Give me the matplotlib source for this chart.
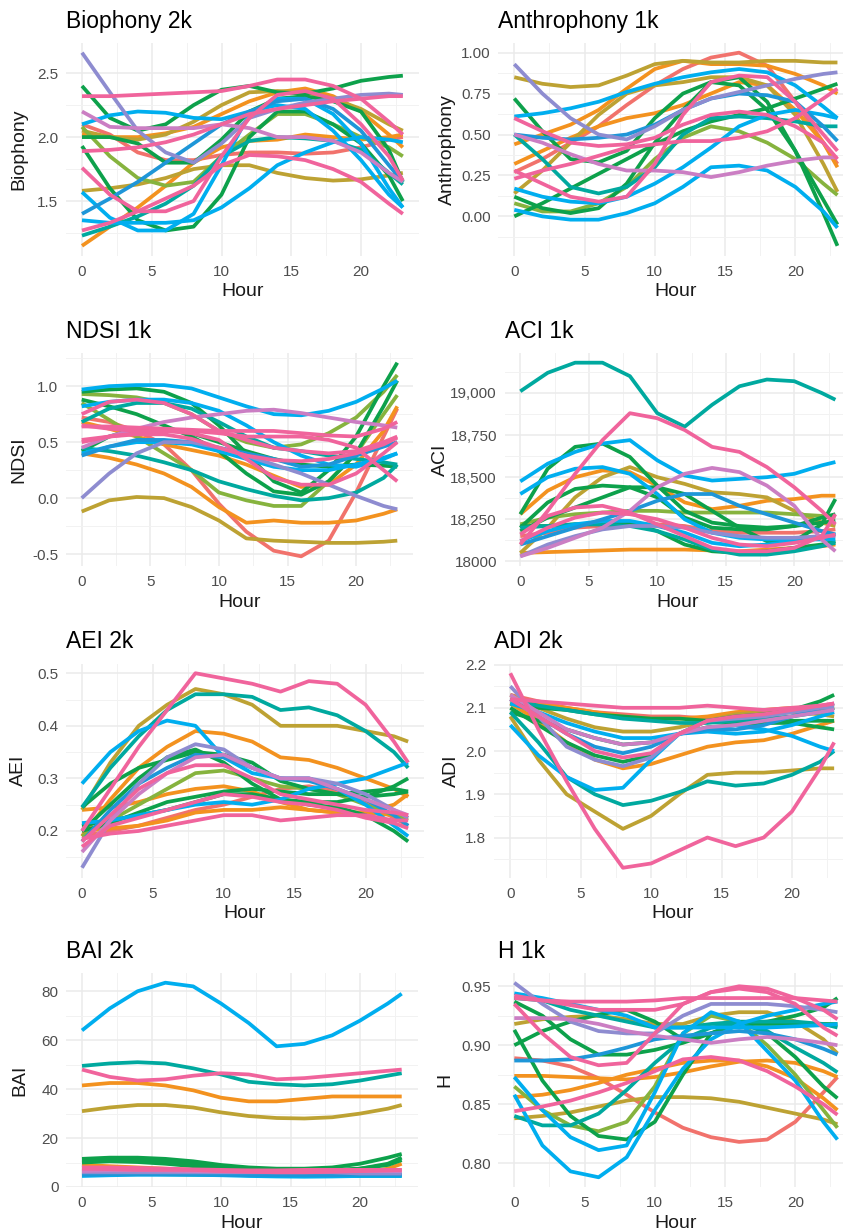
import matplotlib.pyplot as plt
from matplotlib.ticker import MultipleLocator

plt.rcParams['font.family'] = ['Liberation Sans', 'DejaVu Sans']

# sampled hours shared by every smoothed site curve
HOURS = [0, 2, 4, 6, 8, 10, 12, 14, 16, 18, 20, 22, 23]

SALMON = '#F1726C'
ORANGE = '#F3921F'
OLIVE = '#BDA233'
LGREEN = '#86B33E'
GREEN = '#0DA14B'
TEAL = '#00A99F'
SKY = '#00AEEF'
BLUE = '#1E96D8'
LAVENDER = '#8E8CD0'
MAUVE = '#CB7EC3'
PINK = '#F0649C'

# Biophony 2k
bio_colors = [SALMON, ORANGE, ORANGE, OLIVE, OLIVE, LGREEN, GREEN, GREEN, GREEN, TEAL,
              SKY, SKY, SKY, BLUE, LAVENDER, MAUVE, PINK, PINK, PINK, PINK]
bio_values = [
    [2.10, 2.02, 1.88, 1.82, 1.82, 1.86, 1.88, 1.88, 1.87, 1.88, 1.92, 1.98, 2.00],
    [2.02, 2.00, 2.00, 2.03, 2.08, 2.18, 2.28, 2.35, 2.38, 2.32, 2.20, 2.02, 1.92],
    [1.15, 1.30, 1.45, 1.62, 1.80, 1.92, 1.97, 1.98, 2.02, 2.00, 1.98, 2.00, 2.02],
    [1.58, 1.60, 1.63, 1.68, 1.75, 1.78, 1.78, 1.72, 1.68, 1.66, 1.67, 1.70, 1.72],
    [2.05, 2.00, 1.98, 2.02, 2.12, 2.25, 2.35, 2.36, 2.35, 2.30, 2.22, 2.10, 2.05],
    [2.08, 1.85, 1.68, 1.62, 1.65, 1.85, 2.02, 2.18, 2.18, 2.10, 2.00, 1.92, 1.85],
    [2.40, 2.15, 2.05, 2.10, 2.25, 2.37, 2.40, 2.35, 2.34, 2.38, 2.44, 2.47, 2.48],
    [1.93, 1.60, 1.35, 1.27, 1.30, 1.55, 2.00, 2.20, 2.20, 2.10, 1.95, 1.70, 1.50],
    [2.00, 2.00, 1.95, 1.80, 1.80, 1.98, 2.20, 2.30, 2.32, 2.28, 2.20, 1.90, 1.65],
    [1.23, 1.30, 1.38, 1.48, 1.62, 1.85, 1.97, 2.00, 1.99, 1.97, 1.90, 1.72, 1.63],
    [2.10, 2.17, 2.20, 2.19, 2.15, 2.14, 2.20, 2.25, 2.22, 2.05, 1.82, 1.55, 1.45],
    [1.35, 1.33, 1.33, 1.33, 1.35, 1.45, 1.60, 1.78, 1.88, 1.96, 2.00, 1.98, 1.96],
    [1.57, 1.37, 1.27, 1.27, 1.40, 1.78, 2.18, 2.30, 2.30, 2.18, 1.95, 1.60, 1.45],
    [1.40, 1.52, 1.65, 1.80, 1.95, 2.10, 2.20, 2.28, 2.30, 2.22, 2.05, 1.78, 1.65],
    [2.66, 2.35, 2.05, 1.88, 1.80, 1.95, 2.15, 2.22, 2.27, 2.30, 2.33, 2.34, 2.33],
    [2.20, 2.08, 2.07, 2.07, 2.07, 2.10, 2.07, 2.00, 2.00, 1.97, 1.88, 1.72, 1.65],
    [2.32, 2.32, 2.33, 2.34, 2.35, 2.36, 2.40, 2.45, 2.45, 2.40, 2.30, 2.12, 2.02],
    [1.76, 1.55, 1.42, 1.42, 1.50, 1.85, 2.15, 2.33, 2.36, 2.30, 2.10, 1.85, 1.66],
    [1.27, 1.33, 1.42, 1.52, 1.62, 1.78, 1.86, 1.85, 1.82, 1.75, 1.65, 1.48, 1.40],
    [1.89, 1.90, 1.92, 1.96, 2.02, 2.10, 2.18, 2.22, 2.25, 2.28, 2.30, 2.32, 2.32],
]

# Anthrophony 1k
anthro_colors = [SALMON, ORANGE, ORANGE, OLIVE, OLIVE, LGREEN, GREEN, GREEN, GREEN, TEAL,
                 SKY, SKY, SKY, BLUE, LAVENDER, MAUVE, PINK, PINK, PINK]
anthro_values = [
    [0.27, 0.35, 0.45, 0.55, 0.68, 0.80, 0.90, 0.97, 1.00, 0.92, 0.70, 0.45, 0.32],
    [0.44, 0.50, 0.56, 0.65, 0.78, 0.90, 0.95, 0.93, 0.93, 0.92, 0.87, 0.80, 0.75],
    [0.32, 0.40, 0.48, 0.55, 0.60, 0.63, 0.68, 0.75, 0.82, 0.80, 0.65, 0.45, 0.30],
    [0.85, 0.81, 0.79, 0.80, 0.86, 0.93, 0.95, 0.94, 0.94, 0.95, 0.95, 0.94, 0.94],
    [0.14, 0.28, 0.45, 0.62, 0.75, 0.80, 0.82, 0.85, 0.85, 0.80, 0.62, 0.32, 0.15],
    [0.08, 0.03, 0.03, 0.08, 0.18, 0.35, 0.48, 0.55, 0.52, 0.45, 0.35, 0.20, 0.13],
    [0.00, 0.08, 0.17, 0.26, 0.35, 0.44, 0.52, 0.58, 0.62, 0.66, 0.72, 0.78, 0.81],
    [0.72, 0.52, 0.35, 0.33, 0.40, 0.60, 0.75, 0.82, 0.80, 0.65, 0.40, 0.10, -0.05],
    [0.12, 0.05, 0.02, 0.05, 0.20, 0.45, 0.65, 0.82, 0.85, 0.70, 0.40, 0.02, -0.18],
    [0.50, 0.35, 0.18, 0.14, 0.18, 0.30, 0.50, 0.60, 0.61, 0.60, 0.58, 0.55, 0.55],
    [0.61, 0.63, 0.66, 0.70, 0.76, 0.81, 0.85, 0.88, 0.90, 0.88, 0.80, 0.67, 0.60],
    [0.04, 0.00, -0.02, -0.02, 0.02, 0.08, 0.18, 0.30, 0.31, 0.28, 0.18, 0.03, -0.07],
    [0.17, 0.12, 0.09, 0.08, 0.12, 0.20, 0.30, 0.42, 0.55, 0.62, 0.65, 0.62, 0.60],
    [0.50, 0.48, 0.47, 0.48, 0.50, 0.56, 0.65, 0.72, 0.75, 0.74, 0.70, 0.55, 0.46],
    [0.93, 0.75, 0.60, 0.50, 0.47, 0.55, 0.65, 0.72, 0.76, 0.80, 0.84, 0.87, 0.88],
    [0.50, 0.45, 0.38, 0.32, 0.28, 0.28, 0.27, 0.24, 0.27, 0.31, 0.34, 0.36, 0.36],
    [0.28, 0.20, 0.12, 0.09, 0.12, 0.32, 0.62, 0.82, 0.86, 0.85, 0.70, 0.50, 0.40],
    [0.60, 0.52, 0.45, 0.43, 0.44, 0.48, 0.56, 0.62, 0.64, 0.62, 0.55, 0.45, 0.35],
    [0.23, 0.28, 0.32, 0.37, 0.42, 0.44, 0.46, 0.46, 0.48, 0.52, 0.60, 0.72, 0.78],
]

# NDSI 1k
ndsi_colors = [SALMON, ORANGE, ORANGE, OLIVE, LGREEN, LGREEN, GREEN, GREEN, GREEN, TEAL, TEAL,
               SKY, SKY, SKY, BLUE, LAVENDER, MAUVE, PINK, PINK, PINK, PINK, PINK]
ndsi_values = [
    [0.72, 0.68, 0.60, 0.48, 0.25, -0.05, -0.30, -0.47, -0.52, -0.38, 0.05, 0.55, 0.80],
    [0.40, 0.36, 0.30, 0.22, 0.10, -0.08, -0.22, -0.20, -0.22, -0.22, -0.20, -0.14, -0.10],
    [0.68, 0.62, 0.55, 0.48, 0.43, 0.38, 0.30, 0.20, 0.10, 0.12, 0.30, 0.60, 0.82],
    [-0.12, -0.02, 0.01, 0.00, -0.08, -0.20, -0.36, -0.38, -0.39, -0.40, -0.40, -0.39, -0.38],
    [0.85, 0.70, 0.55, 0.40, 0.25, 0.05, -0.02, -0.07, -0.07, 0.15, 0.40, 0.75, 0.92],
    [0.93, 0.92, 0.90, 0.85, 0.75, 0.60, 0.50, 0.45, 0.48, 0.58, 0.72, 0.95, 1.10],
    [0.95, 0.97, 0.98, 0.95, 0.85, 0.65, 0.40, 0.15, 0.05, 0.25, 0.55, 1.00, 1.21],
    [0.88, 0.82, 0.75, 0.65, 0.55, 0.42, 0.22, 0.06, 0.03, 0.15, 0.40, 0.82, 1.05],
    [0.42, 0.55, 0.62, 0.62, 0.58, 0.50, 0.42, 0.35, 0.30, 0.28, 0.30, 0.29, 0.28],
    [0.68, 0.80, 0.85, 0.85, 0.80, 0.68, 0.55, 0.45, 0.42, 0.38, 0.35, 0.32, 0.30],
    [0.45, 0.42, 0.38, 0.32, 0.25, 0.15, 0.08, 0.02, -0.02, 0.00, 0.05, 0.18, 0.30],
    [0.97, 1.00, 1.01, 1.01, 0.98, 0.90, 0.82, 0.75, 0.74, 0.78, 0.86, 0.98, 1.05],
    [0.82, 0.86, 0.88, 0.88, 0.85, 0.78, 0.65, 0.50, 0.38, 0.30, 0.28, 0.35, 0.40],
    [0.40, 0.46, 0.50, 0.50, 0.48, 0.42, 0.35, 0.28, 0.25, 0.25, 0.30, 0.36, 0.40],
    [0.38, 0.46, 0.52, 0.52, 0.50, 0.45, 0.40, 0.35, 0.28, 0.30, 0.38, 0.46, 0.50],
    [0.00, 0.22, 0.40, 0.50, 0.50, 0.45, 0.38, 0.30, 0.22, 0.12, 0.02, -0.07, -0.10],
    [0.45, 0.55, 0.62, 0.68, 0.72, 0.75, 0.78, 0.79, 0.76, 0.72, 0.68, 0.65, 0.63],
    [0.75, 0.86, 0.88, 0.85, 0.75, 0.60, 0.52, 0.45, 0.42, 0.40, 0.42, 0.50, 0.55],
    [0.64, 0.64, 0.63, 0.62, 0.61, 0.60, 0.60, 0.60, 0.58, 0.56, 0.55, 0.62, 0.68],
    [0.52, 0.55, 0.57, 0.57, 0.53, 0.45, 0.38, 0.34, 0.33, 0.35, 0.40, 0.48, 0.54],
    [0.65, 0.62, 0.60, 0.60, 0.58, 0.52, 0.35, 0.18, 0.12, 0.12, 0.22, 0.40, 0.50],
    [0.50, 0.55, 0.58, 0.60, 0.60, 0.58, 0.55, 0.55, 0.55, 0.52, 0.45, 0.25, 0.15],
]

# ACI 1k
aci_colors = [SALMON, ORANGE, ORANGE, OLIVE, LGREEN, GREEN, GREEN, GREEN, GREEN, TEAL, TEAL,
              SKY, SKY, SKY, BLUE, LAVENDER, MAUVE, PINK, PINK, PINK]
aci_values = [
    [18150, 18170, 18200, 18210, 18220, 18220, 18210, 18180, 18170, 18170, 18170, 18180, 18190],
    [18280, 18420, 18500, 18540, 18530, 18450, 18350, 18310, 18330, 18360, 18370, 18390, 18390],
    [18050, 18055, 18060, 18065, 18070, 18070, 18070, 18065, 18060, 18070, 18080, 18090, 18100],
    [18050, 18200, 18380, 18500, 18560, 18500, 18460, 18410, 18400, 18380, 18300, 18230, 18210],
    [18220, 18260, 18280, 18290, 18300, 18300, 18290, 18290, 18290, 18290, 18280, 18270, 18260],
    [18280, 18550, 18680, 18700, 18620, 18450, 18300, 18230, 18210, 18200, 18210, 18230, 18240],
    [18200, 18350, 18430, 18450, 18440, 18380, 18260, 18200, 18190, 18190, 18210, 18260, 18280],
    [18180, 18260, 18320, 18380, 18440, 18440, 18400, 18300, 18200, 18120, 18120, 18220, 18370],
    [18210, 18210, 18220, 18220, 18230, 18180, 18100, 18060, 18050, 18060, 18080, 18100, 18120],
    [19010, 19120, 19180, 19180, 19100, 18880, 18800, 18930, 19040, 19080, 19070, 19000, 18960],
    [18200, 18210, 18220, 18220, 18210, 18180, 18130, 18070, 18040, 18040, 18060, 18090, 18110],
    [18475, 18580, 18650, 18700, 18720, 18600, 18510, 18480, 18490, 18500, 18520, 18570, 18590],
    [18400, 18500, 18550, 18560, 18520, 18400, 18250, 18170, 18140, 18130, 18130, 18130, 18130],
    [18120, 18180, 18220, 18240, 18240, 18210, 18170, 18110, 18090, 18100, 18120, 18150, 18160],
    [18100, 18150, 18200, 18250, 18300, 18360, 18400, 18400, 18330, 18280, 18230, 18180, 18160],
    [18030, 18100, 18150, 18190, 18210, 18210, 18200, 18170, 18150, 18140, 18140, 18150, 18150],
    [18030, 18080, 18140, 18200, 18300, 18440, 18520, 18555, 18530, 18450, 18330, 18130, 18060],
    [18160, 18270, 18320, 18330, 18290, 18220, 18150, 18080, 18060, 18060, 18080, 18150, 18280],
    [18120, 18200, 18260, 18290, 18280, 18250, 18200, 18140, 18100, 18090, 18110, 18140, 18160],
    [18100, 18300, 18520, 18720, 18880, 18850, 18780, 18680, 18650, 18560, 18440, 18300, 18220],
]

# AEI 2k
aei_colors = [SALMON, ORANGE, ORANGE, ORANGE, OLIVE, LGREEN, GREEN, GREEN, GREEN, GREEN,
              TEAL, SKY, SKY, BLUE, LAVENDER, MAUVE, PINK, PINK, PINK, PINK]
aei_values = [
    [0.190, 0.200, 0.210, 0.225, 0.240, 0.250, 0.265, 0.280, 0.285, 0.275, 0.255, 0.225, 0.210],
    [0.190, 0.260, 0.320, 0.360, 0.390, 0.385, 0.370, 0.340, 0.335, 0.320, 0.300, 0.280, 0.265],
    [0.240, 0.245, 0.255, 0.270, 0.280, 0.285, 0.275, 0.255, 0.240, 0.235, 0.235, 0.250, 0.270],
    [0.200, 0.205, 0.210, 0.220, 0.235, 0.240, 0.240, 0.245, 0.240, 0.235, 0.235, 0.230, 0.225],
    [0.240, 0.330, 0.400, 0.440, 0.470, 0.460, 0.440, 0.400, 0.400, 0.400, 0.390, 0.380, 0.370],
    [0.190, 0.220, 0.250, 0.280, 0.310, 0.315, 0.300, 0.285, 0.280, 0.270, 0.250, 0.230, 0.220],
    [0.245, 0.290, 0.320, 0.335, 0.350, 0.345, 0.330, 0.295, 0.280, 0.270, 0.265, 0.270, 0.275],
    [0.200, 0.250, 0.300, 0.340, 0.355, 0.330, 0.290, 0.260, 0.250, 0.245, 0.230, 0.200, 0.180],
    [0.200, 0.215, 0.235, 0.255, 0.265, 0.275, 0.280, 0.275, 0.270, 0.270, 0.275, 0.280, 0.275],
    [0.210, 0.220, 0.230, 0.240, 0.255, 0.270, 0.270, 0.260, 0.255, 0.255, 0.265, 0.285, 0.300],
    [0.245, 0.320, 0.380, 0.430, 0.460, 0.460, 0.455, 0.430, 0.435, 0.420, 0.390, 0.350, 0.320],
    [0.290, 0.350, 0.390, 0.410, 0.400, 0.340, 0.310, 0.300, 0.300, 0.280, 0.250, 0.210, 0.190],
    [0.215, 0.220, 0.230, 0.240, 0.250, 0.255, 0.250, 0.260, 0.280, 0.290, 0.300, 0.320, 0.330],
    [0.180, 0.240, 0.290, 0.320, 0.345, 0.340, 0.320, 0.300, 0.295, 0.280, 0.260, 0.230, 0.210],
    [0.130, 0.220, 0.290, 0.340, 0.365, 0.355, 0.320, 0.300, 0.300, 0.290, 0.270, 0.240, 0.225],
    [0.160, 0.220, 0.270, 0.310, 0.340, 0.345, 0.320, 0.300, 0.300, 0.280, 0.260, 0.240, 0.230],
    [0.180, 0.230, 0.280, 0.310, 0.325, 0.325, 0.300, 0.270, 0.260, 0.250, 0.240, 0.235, 0.230],
    [0.185, 0.195, 0.200, 0.210, 0.220, 0.230, 0.230, 0.220, 0.225, 0.230, 0.230, 0.220, 0.220],
    [0.170, 0.210, 0.225, 0.240, 0.255, 0.270, 0.265, 0.255, 0.250, 0.240, 0.225, 0.215, 0.205],
    [0.200, 0.280, 0.360, 0.430, 0.500, 0.490, 0.480, 0.465, 0.485, 0.480, 0.440, 0.370, 0.330],
]

# ADI 2k
adi_colors = [SALMON, ORANGE, ORANGE, OLIVE, OLIVE, GREEN, GREEN, GREEN, TEAL, TEAL,
              SKY, SKY, BLUE, LAVENDER, MAUVE, PINK, PINK, PINK]
adi_values = [
    [2.130, 2.115, 2.100, 2.090, 2.085, 2.080, 2.080, 2.075, 2.080, 2.085, 2.090, 2.095, 2.100],
    [2.110, 2.070, 2.020, 1.980, 1.960, 1.970, 1.990, 2.010, 2.020, 2.025, 2.040, 2.060, 2.070],
    [2.120, 2.110, 2.100, 2.090, 2.080, 2.075, 2.075, 2.080, 2.090, 2.095, 2.100, 2.100, 2.100],
    [2.080, 1.980, 1.900, 1.860, 1.820, 1.850, 1.900, 1.945, 1.950, 1.950, 1.955, 1.960, 1.960],
    [2.130, 2.100, 2.075, 2.055, 2.045, 2.045, 2.055, 2.070, 2.085, 2.090, 2.090, 2.085, 2.080],
    [2.100, 2.060, 2.020, 1.990, 1.975, 1.990, 2.040, 2.070, 2.080, 2.085, 2.095, 2.115, 2.130],
    [2.110, 2.100, 2.095, 2.085, 2.080, 2.075, 2.075, 2.070, 2.065, 2.065, 2.065, 2.055, 2.050],
    [2.090, 2.070, 2.050, 2.030, 2.015, 2.020, 2.040, 2.055, 2.060, 2.065, 2.070, 2.070, 2.070],
    [2.090, 2.020, 1.940, 1.900, 1.875, 1.885, 1.905, 1.930, 1.920, 1.925, 1.945, 1.975, 2.000],
    [2.120, 2.105, 2.095, 2.085, 2.075, 2.070, 2.065, 2.065, 2.070, 2.075, 2.080, 2.090, 2.100],
    [2.060, 1.990, 1.940, 1.910, 1.915, 1.980, 2.040, 2.050, 2.060, 2.050, 2.035, 2.010, 2.000],
    [2.110, 2.090, 2.065, 2.045, 2.030, 2.030, 2.040, 2.045, 2.040, 2.045, 2.060, 2.080, 2.090],
    [2.120, 2.080, 2.040, 2.010, 1.995, 2.010, 2.040, 2.050, 2.050, 2.060, 2.080, 2.100, 2.110],
    [2.150, 2.080, 2.010, 1.980, 1.965, 1.985, 2.040, 2.070, 2.075, 2.080, 2.090, 2.100, 2.100],
    [2.130, 2.090, 2.050, 2.030, 2.015, 2.020, 2.040, 2.055, 2.060, 2.070, 2.080, 2.090, 2.095],
    [2.120, 2.115, 2.110, 2.105, 2.100, 2.100, 2.100, 2.105, 2.100, 2.095, 2.100, 2.105, 2.110],
    [2.120, 2.080, 2.040, 2.000, 1.985, 1.995, 2.040, 2.070, 2.080, 2.085, 2.095, 2.105, 2.110],
    [2.180, 2.050, 1.930, 1.820, 1.730, 1.740, 1.770, 1.800, 1.780, 1.800, 1.860, 1.960, 2.020],
]

# BAI 2k
bai_colors = [SALMON, ORANGE, ORANGE, OLIVE, GREEN, GREEN, GREEN, TEAL, TEAL,
              SKY, SKY, BLUE, LAVENDER, MAUVE, PINK, PINK, PINK]
bai_values = [
    [5.5, 5.7, 5.8, 5.8, 5.5, 5.2, 5.0, 4.5, 4.5, 4.5, 4.7, 5.0, 5.2],
    [41.5, 42.5, 42.5, 41.5, 39.5, 36.5, 35.0, 35.0, 36.0, 37.0, 37.0, 37.0, 37.0],
    [9.0, 8.5, 8.0, 7.5, 7.0, 6.5, 5.5, 5.0, 5.0, 5.0, 5.5, 7.5, 9.5],
    [31.0, 32.5, 33.5, 33.5, 32.5, 30.5, 29.0, 28.2, 28.0, 28.5, 30.0, 32.0, 33.5],
    [11.5, 12.0, 12.0, 11.5, 10.5, 9.0, 8.0, 7.5, 7.5, 8.0, 9.5, 12.0, 13.5],
    [11.0, 11.2, 11.0, 10.5, 9.5, 8.5, 7.5, 7.0, 7.0, 7.0, 7.5, 9.0, 11.0],
    [10.0, 10.5, 10.2, 9.5, 8.5, 7.5, 6.5, 6.0, 6.0, 6.5, 7.5, 9.5, 12.0],
    [49.5, 50.5, 51.0, 50.5, 48.5, 46.0, 43.0, 42.0, 41.5, 42.0, 43.5, 45.5, 46.5],
    [5.5, 5.5, 5.4, 5.2, 5.0, 5.0, 4.8, 4.5, 4.5, 4.5, 4.5, 4.5, 4.5],
    [64.0, 73.0, 80.0, 83.5, 82.0, 75.0, 67.0, 57.5, 58.5, 62.0, 68.0, 75.0, 79.0],
    [4.5, 4.8, 5.0, 5.0, 5.0, 4.8, 4.5, 4.3, 4.2, 4.3, 4.5, 4.5, 4.5],
    [5.0, 5.2, 5.2, 5.2, 5.2, 5.0, 4.8, 4.8, 4.8, 4.8, 5.0, 5.0, 5.0],
    [6.0, 6.0, 6.0, 6.0, 6.0, 6.0, 6.0, 6.0, 6.0, 6.0, 5.5, 5.5, 5.5],
    [6.5, 6.8, 6.8, 6.7, 6.5, 6.3, 6.3, 6.3, 6.5, 6.5, 6.5, 6.5, 6.5],
    [7.5, 7.3, 7.0, 7.0, 7.0, 6.5, 6.2, 6.0, 6.0, 6.2, 6.5, 6.8, 7.0],
    [8.0, 8.0, 7.8, 7.5, 7.2, 7.0, 6.8, 6.8, 7.0, 7.0, 7.0, 7.0, 7.0],
    [48.0, 45.0, 43.5, 44.0, 45.5, 46.5, 46.0, 44.0, 44.5, 45.5, 46.5, 47.5, 48.0],
]

# H 1k
h_colors = [SALMON, ORANGE, ORANGE, OLIVE, OLIVE, LGREEN, GREEN, GREEN, GREEN, TEAL, TEAL,
            SKY, SKY, SKY, BLUE, LAVENDER, MAUVE, PINK, PINK, PINK, PINK]
h_values = [
    [0.889, 0.887, 0.882, 0.872, 0.858, 0.843, 0.830, 0.822, 0.818, 0.820, 0.835, 0.860, 0.873],
    [0.856, 0.858, 0.862, 0.868, 0.875, 0.880, 0.885, 0.887, 0.887, 0.882, 0.872, 0.855, 0.845],
    [0.874, 0.874, 0.873, 0.872, 0.871, 0.873, 0.877, 0.882, 0.886, 0.887, 0.885, 0.878, 0.873],
    [0.838, 0.840, 0.843, 0.848, 0.853, 0.856, 0.856, 0.855, 0.852, 0.847, 0.842, 0.837, 0.833],
    [0.918, 0.922, 0.924, 0.925, 0.922, 0.918, 0.918, 0.925, 0.928, 0.928, 0.920, 0.905, 0.893],
    [0.865, 0.845, 0.832, 0.827, 0.835, 0.865, 0.910, 0.925, 0.920, 0.900, 0.875, 0.845, 0.830],
    [0.913, 0.870, 0.840, 0.823, 0.820, 0.835, 0.875, 0.910, 0.920, 0.910, 0.890, 0.865, 0.855],
    [0.900, 0.912, 0.920, 0.926, 0.930, 0.920, 0.905, 0.910, 0.918, 0.920, 0.925, 0.932, 0.940],
    [0.937, 0.925, 0.905, 0.892, 0.892, 0.896, 0.902, 0.910, 0.918, 0.918, 0.918, 0.918, 0.918],
    [0.840, 0.832, 0.832, 0.842, 0.862, 0.885, 0.905, 0.915, 0.918, 0.912, 0.898, 0.885, 0.877],
    [0.940, 0.938, 0.930, 0.925, 0.920, 0.915, 0.915, 0.918, 0.920, 0.920, 0.920, 0.918, 0.915],
    [0.944, 0.940, 0.935, 0.930, 0.925, 0.915, 0.915, 0.915, 0.915, 0.915, 0.916, 0.917, 0.918],
    [0.858, 0.815, 0.793, 0.788, 0.805, 0.845, 0.880, 0.905, 0.918, 0.925, 0.930, 0.935, 0.937],
    [0.873, 0.845, 0.822, 0.811, 0.815, 0.860, 0.910, 0.928, 0.920, 0.895, 0.870, 0.835, 0.820],
    [0.887, 0.887, 0.888, 0.892, 0.898, 0.905, 0.908, 0.910, 0.912, 0.910, 0.905, 0.897, 0.892],
    [0.953, 0.935, 0.920, 0.912, 0.910, 0.910, 0.925, 0.935, 0.935, 0.935, 0.933, 0.930, 0.928],
    [0.923, 0.923, 0.922, 0.918, 0.912, 0.908, 0.905, 0.902, 0.905, 0.907, 0.905, 0.902, 0.900],
    [0.940, 0.938, 0.937, 0.937, 0.937, 0.938, 0.940, 0.940, 0.940, 0.940, 0.940, 0.938, 0.937],
    [0.935, 0.910, 0.890, 0.883, 0.885, 0.910, 0.935, 0.945, 0.948, 0.945, 0.935, 0.915, 0.908],
    [0.942, 0.938, 0.934, 0.930, 0.930, 0.930, 0.935, 0.945, 0.950, 0.948, 0.940, 0.930, 0.922],
    [0.844, 0.848, 0.853, 0.860, 0.868, 0.878, 0.888, 0.890, 0.887, 0.878, 0.865, 0.850, 0.841],
]

W, H = 843, 1231
fig = plt.figure(figsize=(W / 100, H / 100), dpi=100)

GRID = '#EBEBEB'
TICK_COLOR = '#4D4D4D'
ROWS = [(43, 255.5), (353, 566), (663.5, 877.5), (973, 1187)]


def panel(col_x0, hour_px, row, label_x, title, ylabel, colors, values,
          yticks, yticklabels, yminor):
    top, bottom = ROWS[row]
    left = col_x0 - 1.15 * hour_px
    width = 25.3 * hour_px
    ax = fig.add_axes([left / W, 1 - bottom / H, width / W, (bottom - top) / H])
    for c, v in zip(colors, values):
        ax.plot(HOURS, v, color=c, lw=2.7, solid_capstyle='butt', solid_joinstyle='round')
    ax.margins(x=0.05, y=0.05)
    ax.set_xticks([0, 5, 10, 15, 20])
    ax.xaxis.set_minor_locator(MultipleLocator(2.5))
    ax.set_yticks(yticks, yticklabels)
    ax.yaxis.set_minor_locator(MultipleLocator(yminor))
    ax.grid(which='major', color=GRID, lw=1.1)
    ax.grid(which='minor', color='#F2F2F2', lw=0.7)
    ax.set_axisbelow(True)
    for s in ax.spines.values():
        s.set_visible(False)
    ax.tick_params(which='both', length=0, labelsize=11, labelcolor=TICK_COLOR)
    ax.tick_params(axis='x', pad=6.8)
    ax.tick_params(axis='y', pad=5.5)
    ax.set_title(title, loc='left', fontsize=16.5, pad=10.8, color='black')
    ax.set_xlabel('Hour', fontsize=14, labelpad=3, color='#1A1A1A')
    ax.set_ylabel(ylabel, fontsize=14, color='#1A1A1A')
    ax.yaxis.set_label_coords((label_x - left) / width, 0.5)
    return ax


panel(82, 13.95, 0, 27, 'Biophony 2k', 'Biophony', bio_colors, bio_values,
      [1.5, 2.0, 2.5], ['1.5', '2.0', '2.5'], 0.25)
panel(514.3, 14.05, 0, 456, 'Anthrophony 1k', 'Anthrophony', anthro_colors, anthro_values,
      [0, 0.25, 0.5, 0.75, 1.0], ['0.00', '0.25', '0.50', '0.75', '1.00'], 0.125)
panel(81.7, 13.72, 1, 27, 'NDSI 1k', 'NDSI', ndsi_colors, ndsi_values,
      [-0.5, 0, 0.5, 1.0], ['-0.5', '0.0', '0.5', '1.0'], 0.25)
panel(520.3, 13.7, 1, 449, 'ACI 1k', 'ACI', aci_colors, aci_values,
      [18000, 18250, 18500, 18750, 19000], ['18000', '18,250', '18,500', '18,750', '19,000'], 125)
panel(82, 14.18, 2, 27, 'AEI 2k', 'AEI', aei_colors, aei_values,
      [0.2, 0.3, 0.4, 0.5], ['0.2', '0.3', '0.4', '0.5'], 0.05)
panel(510.3, 14.08, 2, 460, 'ADI 2k', 'ADI', adi_colors, adi_values,
      [1.8, 1.9, 2.0, 2.1, 2.2], ['1.8', '1.9', '2.0', '2.1', '2.2'], 0.05)
panel(82, 13.9, 3, 28, 'BAI 2k', 'BAI', bai_colors, bai_values,
      [0, 20, 40, 60, 80], ['0', '20', '40', '60', '80'], 10)
panel(514.3, 14.05, 3, 453, 'H 1k', 'H', h_colors, h_values,
      [0.80, 0.85, 0.90, 0.95], ['0.80', '0.85', '0.90', '0.95'], 0.025)

fig.savefig('out.png', dpi=100, facecolor='white')
